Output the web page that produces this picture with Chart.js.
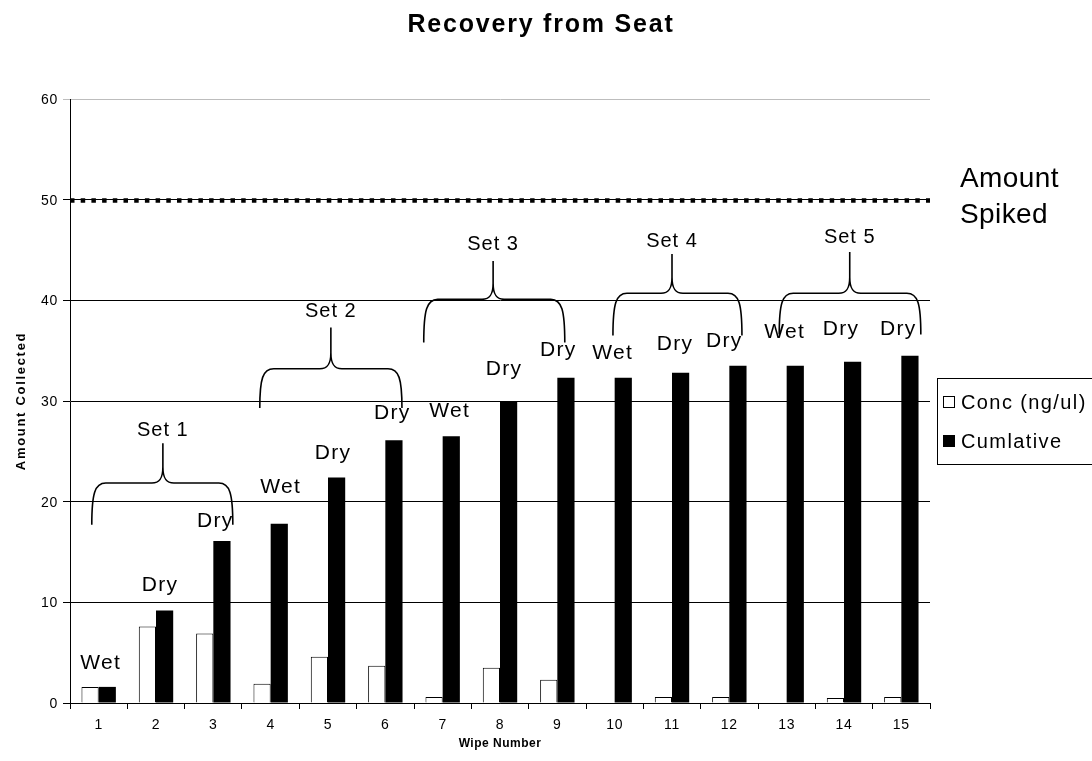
<!DOCTYPE html>
<html>
<head>
<meta charset="utf-8">
<title>Recovery from Seat</title>
<script src="https://cdn.jsdelivr.net/npm/chart.js@4/dist/chart.umd.min.js"></script>
<style>
  html, body { margin: 0; padding: 0; background: #fff; }
  #chart { display: block; }
</style>
</head>
<body>
<canvas id="chart" width="1092" height="761"></canvas>
<script>
// Wipe numbers along the x axis
const wipeNumbers = ['1', '2', '3', '4', '5', '6', '7', '8', '9', '10', '11', '12', '13', '14', '15'];
// Amount recovered on each wipe
const concValues = [1.6, 7.6, 6.9, 1.9, 4.6, 3.7, 0.6, 3.5, 2.3, 0, 0.6, 0.6, 0, 0.5, 0.6];
// Running total of the amount recovered
const cumulativeValues = [1.6, 9.2, 16.1, 17.8, 22.4, 26.1, 26.5, 30.0, 32.3, 32.3, 32.8, 33.5, 33.5, 33.9, 34.5];
// Type of each wipe
const wipeTypes = ['Wet', 'Dry', 'Dry', 'Wet', 'Dry', 'Dry', 'Wet', 'Dry', 'Dry', 'Wet', 'Dry', 'Dry', 'Wet', 'Dry', 'Dry'];
// Wipe sets
const setNames = ['Set 1', 'Set 2', 'Set 3', 'Set 4', 'Set 5'];
// Amount originally spiked onto the seat
const amountSpiked = 50;
// Y axis ticks
const yTicks = [0, 10, 20, 30, 40, 50, 60];

const seriesNames = ['Conc (ng/ul)', 'Cumlative'];
const FONT = "'Liberation Sans', Arial, Helvetica, sans-serif";

// Placement of the Wet/Dry tags: lift above the cumulative bar and sideways nudge (px)
const tagLift  = [25, 27, 21, 38, 26, 29, 27, 34, 29, 26, 30, 26, 35, 34, 28];
const tagShift = [2, 4, 2, 10, 5, 7, 7, 4, 1, -2, 3, -5, -2, -3, -3];

// Brace placement for each set, in axis units (x = wipe index, y = amount)
const braceLayout = [
  { from: -0.12, to: 2.34,  mid: 1.12,  end: 17.7, bar: 21.85, tip: 25.8, text: 27.2 },
  { from: 2.81,  to: 5.29,  mid: 4.05,  end: 29.3, bar: 33.2,  tip: 37.3, text: 39.0 },
  { from: 5.67,  to: 8.13,  mid: 6.88,  end: 35.8, bar: 40.1,  tip: 43.9, text: 45.7 },
  { from: 8.97,  to: 11.22, mid: 10.0,  end: 36.5, bar: 40.7,  tip: 44.6, text: 46.0 },
  { from: 11.87, to: 14.34, mid: 13.1,  end: 36.6, bar: 40.7,  tip: 44.8, text: 46.4 }
];

function drawText(ctx, str, x, y, o) {
  ctx.save();
  ctx.font = (o.bold ? 'bold ' : '') + o.size + 'px ' + FONT;
  ctx.fillStyle = o.color || '#000';
  ctx.textAlign = o.align || 'left';
  ctx.textBaseline = o.baseline || 'alphabetic';
  if ('letterSpacing' in ctx) ctx.letterSpacing = (o.spacing || 0) + 'px';
  ctx.translate(x, y);
  if (o.rotate) ctx.rotate(o.rotate);
  ctx.fillText(str, 0, 0);
  ctx.restore();
}

function drawBrace(ctx, xL, xR, xM, yE, yB, yT) {
  const c = 14;
  const k = Math.min(16, (yB - yT) * 0.42);
  ctx.beginPath();
  ctx.moveTo(xL, yE);
  ctx.bezierCurveTo(xL, yE - (yE - yB) * 0.75, xL + 3, yB, xL + c, yB);
  ctx.lineTo(xM - 11, yB);
  ctx.bezierCurveTo(xM - 3, yB, xM, yB - 5, xM, yB - k);
  ctx.lineTo(xM, yT);
  ctx.moveTo(xM, yB - k);
  ctx.bezierCurveTo(xM, yB - 5, xM + 3, yB, xM + 11, yB);
  ctx.lineTo(xR - c, yB);
  ctx.bezierCurveTo(xR - 3, yB, xR, yE - (yE - yB) * 0.75, xR, yE);
  ctx.stroke();
}

const decorations = {
  id: 'decorations',
  afterDatasetsDraw(chart) {
    const { ctx, chartArea: area, scales: { x, y } } = chart;

    // Spiked amount reference line (heavy dotted)
    const ySpk = Math.round(y.getPixelForValue(amountSpiked)) + 0.5;
    ctx.save();
    ctx.strokeStyle = '#000';
    ctx.lineWidth = 4.5;
    ctx.setLineDash([4.5, 6.2]);
    ctx.beginPath();
    ctx.moveTo(area.left, ySpk);
    ctx.lineTo(area.right, ySpk);
    ctx.stroke();
    ctx.restore();

    // Wet / Dry tag above each cumulative bar
    wipeTypes.forEach((t, i) => {
      const px = x.getPixelForValue(i) + tagShift[i];
      const py = y.getPixelForValue(cumulativeValues[i]) - tagLift[i] + 7.5;
      drawText(ctx, t, px, py, { size: 21, align: 'center', spacing: 1.3 });
    });

    // Set braces with their names
    ctx.save();
    ctx.strokeStyle = '#000';
    ctx.lineWidth = 1.6;
    ctx.lineJoin = 'round';
    braceLayout.forEach((b, i) => {
      drawBrace(ctx,
        x.getPixelForValue(b.from), x.getPixelForValue(b.to), x.getPixelForValue(b.mid),
        y.getPixelForValue(b.end), y.getPixelForValue(b.bar), y.getPixelForValue(b.tip));
      drawText(ctx, setNames[i], x.getPixelForValue(b.mid), y.getPixelForValue(b.text) + 7,
        { size: 20, align: 'center', spacing: 1 });
    });
    ctx.restore();
  },
  afterDraw(chart) {
    const { ctx, chartArea: area, scales: { x, y } } = chart;

    // Title
    drawText(ctx, 'Recovery from Seat', 541, 32, { size: 25, bold: true, align: 'center', spacing: 1.8 });

    // Y tick labels
    yTicks.forEach(v => {
      drawText(ctx, String(v), 58, y.getPixelForValue(v) + 5, { size: 14, align: 'right', spacing: 0.7 });
    });
    // X tick labels
    wipeNumbers.forEach((w, i) => {
      drawText(ctx, w, x.getPixelForValue(i), 729, { size: 14, align: 'center', spacing: 0.7 });
    });

    // Axis titles
    drawText(ctx, 'Wipe Number', (area.left + area.right) / 2, 747, { size: 12, bold: true, align: 'center', spacing: 0.5 });
    drawText(ctx, 'Amount Collected', 25, (area.top + area.bottom) / 2, { size: 13, bold: true, align: 'center', spacing: 1.7, rotate: -Math.PI / 2 });

    // Label for the spiked amount line
    const ySpk = y.getPixelForValue(amountSpiked);
    drawText(ctx, 'Amount', 960, ySpk - 13, { size: 28, spacing: 0.4 });
    drawText(ctx, 'Spiked', 960, ySpk + 23, { size: 28, spacing: 0.4 });

    // Legend
    ctx.save();
    ctx.strokeStyle = '#000';
    ctx.lineWidth = 1;
    ctx.strokeRect(937.5, 378.5, 200, 86);
    const rows = [402, 441];
    const fills = ['#fff', '#000'];
    rows.forEach((ry, i) => {
      ctx.fillStyle = fills[i];
      ctx.fillRect(943.5, ry - 5.5, 11, 11);
      ctx.strokeRect(943.5, ry - 5.5, 11, 11);
      drawText(ctx, seriesNames[i], 961, ry + 7, { size: 20, spacing: 1.4 });
    });
    ctx.restore();
  }
};

new Chart(document.getElementById('chart'), {
  type: 'bar',
  data: {
    labels: wipeNumbers,
    datasets: [
      {
        label: seriesNames[0],
        data: concValues,
        backgroundColor: '#fff',
        borderColor: '#000',
        borderWidth: 1,
        categoryPercentage: 0.6,
        barPercentage: 1
      },
      {
        label: seriesNames[1],
        data: cumulativeValues,
        backgroundColor: '#000',
        borderColor: '#000',
        borderWidth: 0,
        categoryPercentage: 0.6,
        barPercentage: 1
      }
    ]
  },
  options: {
    responsive: false,
    animation: false,
    devicePixelRatio: 1,
    layout: { padding: { left: 0, right: 162, top: 99, bottom: 0 } },
    plugins: {
      legend: { display: false },
      title: { display: false },
      tooltip: { enabled: false }
    },
    scales: {
      x: {
        ticks: { display: false },
        grid: { display: true, drawOnChartArea: false, drawTicks: true, tickLength: 6, color: '#000', offset: true },
        border: { display: true, color: '#000', width: 1 },
        afterFit(s) { s.height = 58; }
      },
      y: {
        min: 0,
        max: 60,
        ticks: { display: false, stepSize: 10 },
        grid: {
          color: c => (c.tick && c.tick.value === 60 ? '#bdbdbd' : '#000'),
          lineWidth: 1,
          drawTicks: true,
          tickLength: 7
        },
        border: { display: true, color: '#000', width: 1 },
        afterFit(s) { s.width = 70; }
      }
    }
  },
  plugins: [decorations]
});
</script>
</body>
</html>
